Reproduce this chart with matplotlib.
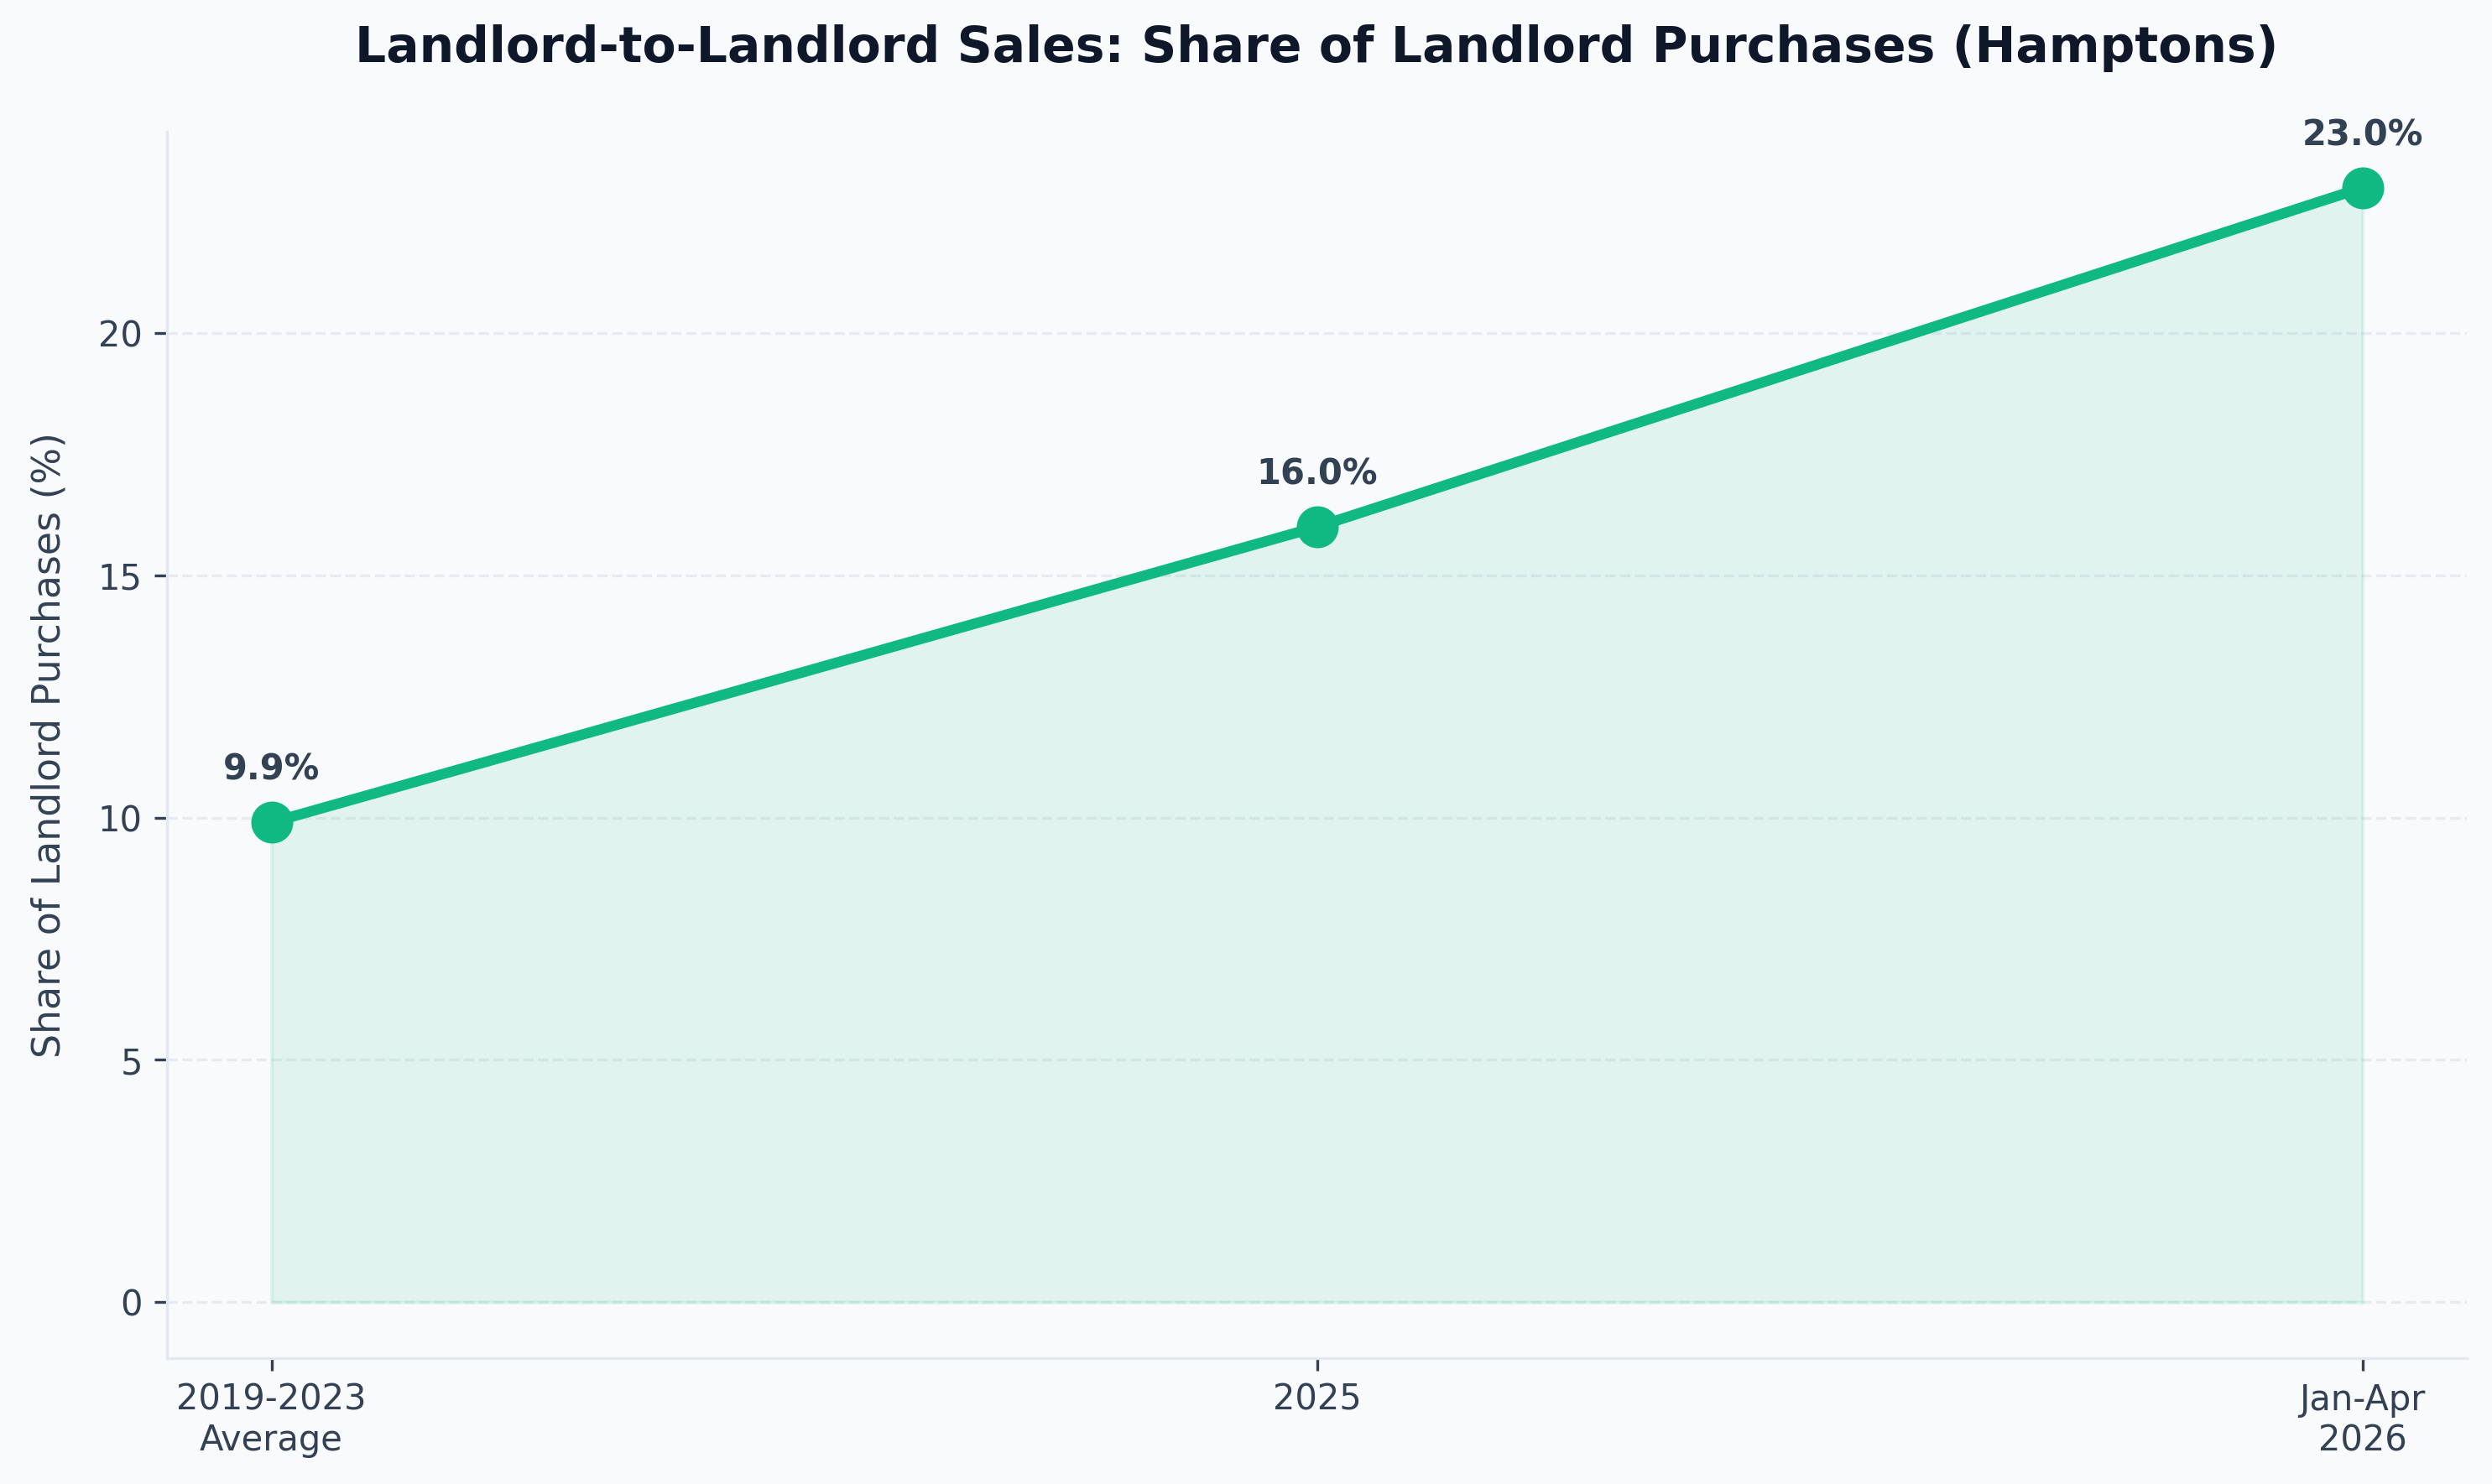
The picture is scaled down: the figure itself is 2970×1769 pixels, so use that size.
import matplotlib
matplotlib.use("Agg")
import matplotlib.pyplot as plt

# data
periods = ["2019-2023\nAverage", "2025", "Jan-Apr\n2026"]
share = [9.9, 16.0, 23.0]

BG = "#f8fafc"
GREEN = "#10b981"
TEXT = "#334155"
TITLE = "#0f172a"
GRID = "#e2e8f0"

plt.rcParams["font.family"] = "DejaVu Sans"

fig, ax = plt.subplots(figsize=(9.9, 5.897), dpi=300)
fig.patch.set_facecolor(BG)
ax.set_facecolor(BG)

x = list(range(len(periods)))
ax.fill_between(x, share, 0, color=GREEN, alpha=0.1)
ax.plot(x, share, color=GREEN, linewidth=3, marker="o", markersize=11, zorder=3)

for xi, v in zip(x, share):
    ax.annotate(f"{v:.1f}%", (xi, v), xytext=(0, 10), textcoords="offset points",
                ha="center", va="bottom", fontsize=10, fontweight="bold", color=TEXT)

ax.set_xticks(x)
ax.set_xticklabels(periods)
ax.set_ylabel("Share of Landlord Purchases (%)", fontsize=11, color=TEXT, labelpad=8.5)
ax.set_title("Landlord-to-Landlord Sales: Share of Landlord Purchases (Hamptons)",
             fontsize=14, fontweight="bold", color=TITLE, pad=20)

ax.grid(axis="y", linestyle="--", color=GRID, linewidth=0.8, alpha=0.8)
ax.set_axisbelow(True)
for s in ["top", "right"]:
    ax.spines[s].set_visible(False)
for s in ["left", "bottom"]:
    ax.spines[s].set_color(GRID)
ax.tick_params(colors=TEXT, labelsize=10)

plt.subplots_adjust(left=0.067, right=0.99, top=0.911, bottom=0.085)
plt.savefig("out.png", dpi=300, facecolor=BG)
